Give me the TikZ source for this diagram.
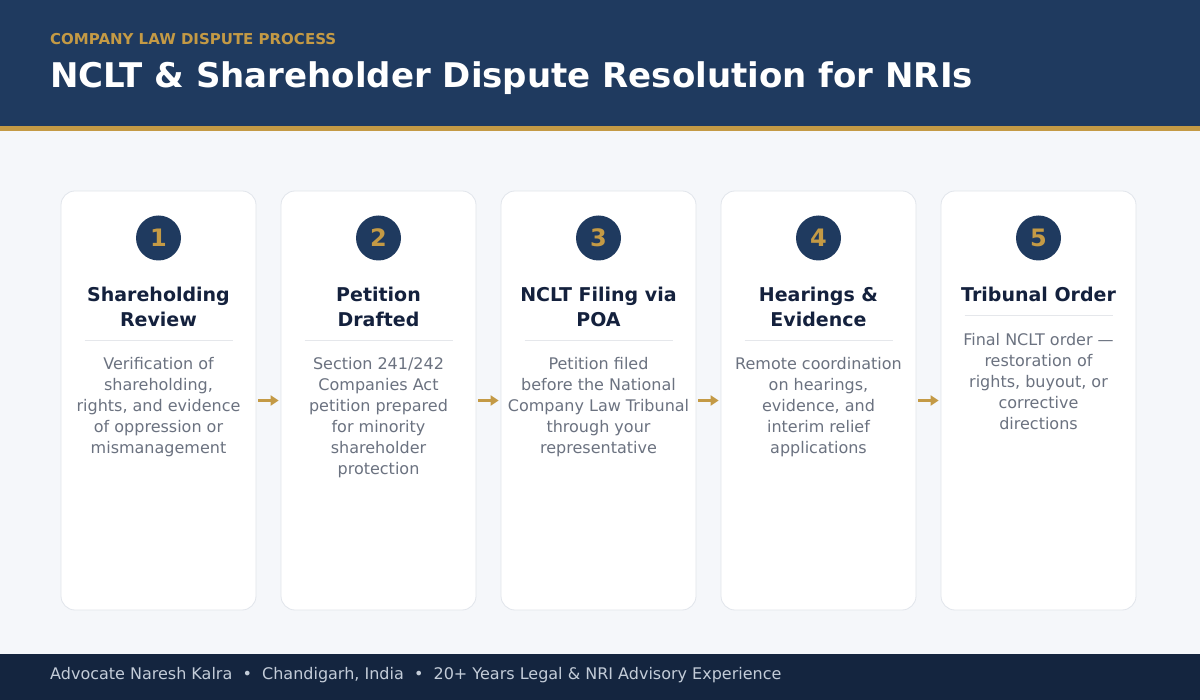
\documentclass[tikz,border=0pt]{standalone}
\usepackage{fontspec}
\setmainfont{DejaVu Sans}
\usetikzlibrary{arrows.meta}
\definecolor{hdr}{HTML}{1F3A5F}
\definecolor{gold}{HTML}{C49A45}
\definecolor{bg}{HTML}{F5F7FA}
\definecolor{ftr}{HTML}{14253F}
\definecolor{ftxt}{HTML}{C3CCD8}
\definecolor{ttl}{HTML}{14213D}
\definecolor{desc}{HTML}{6B7280}
\definecolor{cardline}{HTML}{E1E5EB}
\definecolor{divl}{HTML}{E5E7EB}
\begin{document}
\begin{tikzpicture}[x=1pt,y=-1pt,
  card/.style={draw=cardline,line width=0.8pt,fill=white,rounded corners=14pt,minimum width=195pt,minimum height=419pt,inner sep=0pt},
  badge/.style={circle,fill=hdr,minimum size=45pt,inner sep=0pt,text=gold,font=\fontsize{24}{26}\selectfont\bfseries},
  steptitle/.style={anchor=base,align=center,inner sep=0pt,text=ttl,font=\fontsize{19}{25}\selectfont\bfseries},
  stepdesc/.style={anchor=base,align=center,inner sep=0pt,text=desc,font=\fontsize{16}{21}\selectfont},
  flowarrow/.style={draw=gold,line width=2.6pt,-{Triangle[length=8pt,width=10pt]}},
  divider/.style={draw=divl,line width=0.8pt}]
\useasboundingbox (0,0) rectangle (1200,700);
\fill[bg] (0,0) rectangle (1200,700);
\fill[hdr] (0,0) rectangle (1200,126);
\fill[gold] (0,126) rectangle (1200,131);
\fill[ftr] (0,654) rectangle (1200,700);
\node[anchor=base west,inner sep=0pt,text=gold,font=\fontsize{15}{16}\selectfont\bfseries] (sub) at (50,44.5) {COMPANY LAW DISPUTE PROCESS};
\node[anchor=base west,inner sep=0pt,text=white,font=\fontsize{34}{40}\selectfont\bfseries] (title) at (50,88) {NCLT \& Shareholder Dispute Resolution for NRIs};
\foreach \i/\n in {0/1,1/2,2/3,3/4,4/5}{
  \node[card] (c\i) at (158.5+220*\i,400.5) {};
  \node[badge] (b\i) at (158.5+220*\i,238) {\n};
}
% base anchor = baseline of last line
\node[steptitle] (t0) at (158.5,326.5) {Shareholding\\Review};
\node[steptitle] (t1) at (378.5,326.5) {Petition\\Drafted};
\node[steptitle] (t2) at (598.5,326.5) {NCLT Filing via\\POA};
\node[steptitle] (t3) at (818.5,326.5) {Hearings \&\\Evidence};
\node[steptitle] (t4) at (1038.5,301.5) {Tribunal Order};
\foreach \i in {0,1,2,3}{
  \coordinate (dl\i) at (84.5+220*\i,340.5);
  \coordinate (dr\i) at (232.5+220*\i,340.5);
  \draw[divider] (dl\i) -- (dr\i);
}
\coordinate (dl4) at (964.5,315.5);
\coordinate (dr4) at (1112.5,315.5);
\draw[divider] (dl4) -- (dr4);
\node[stepdesc] (d0) at (158.5,453.5) {Verification of\\shareholding,\\rights, and evidence\\of oppression or\\mismanagement};
\node[stepdesc] (d1) at (378.5,474.5) {Section 241/242\\Companies Act\\petition prepared\\for minority\\shareholder\\protection};
\node[stepdesc] (d2) at (598.5,453.5) {Petition filed\\before the National\\Company Law Tribunal\\through your\\representative};
\node[stepdesc] (d3) at (818.5,453.5) {Remote coordination\\on hearings,\\evidence, and\\interim relief\\applications};
\node[stepdesc] (d4) at (1038.5,429.5) {Final NCLT order —\\restoration of\\rights, buyout, or\\corrective\\directions};
\foreach \i/\j in {0/1,1/2,2/3,3/4}{
  \draw[flowarrow] ([xshift=2pt]c\i.east) -- ([xshift=-2pt]c\j.west);
}
\node[anchor=base west,inner sep=0pt,text=ftxt,font=\fontsize{16}{18}\selectfont] (foot) at (50,679.5) {Advocate Naresh Kalra \ •\ \ Chandigarh, India \ •\ \ 20+ Years Legal \& NRI Advisory Experience};
\end{tikzpicture}
\end{document}
